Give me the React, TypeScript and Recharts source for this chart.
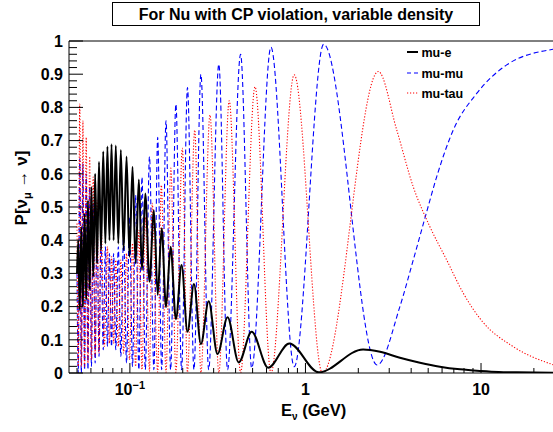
import React from 'react';
import { LineChart, Line, XAxis, YAxis, ReferenceLine } from 'recharts';

// ---- mu -> e (black, solid)
const muE_energy = [0.05, 0.0508, 0.0518, 0.0529, 0.054, 0.0552, 0.0564, 0.0577, 0.059, 0.0604, 0.0618, 0.0634, 0.065, 0.0667, 0.0685, 0.0705, 0.0725, 0.0745, 0.0765, 0.0786, 0.0808, 0.0831, 0.0859, 0.0888, 0.0921, 0.0957, 0.0995, 0.1035, 0.1078, 0.1125, 0.1172, 0.1224, 0.1293, 0.137, 0.144, 0.1517, 0.1606, 0.1706, 0.1828, 0.197, 0.2128, 0.2317, 0.2538, 0.281, 0.3155, 0.36, 0.4167, 0.494, 0.6135, 0.809, 1.19, 2.13, 2.66, 3.45, 4.49, 5.83, 7.59, 10, 12.6, 16, 25.7];
const muE_prob = [0.3, 0.4, 0.19, 0.44, 0.2, 0.48, 0.22, 0.52, 0.25, 0.56, 0.29, 0.6, 0.33, 0.636, 0.37, 0.667, 0.39, 0.682, 0.4, 0.689, 0.4, 0.685, 0.39, 0.672, 0.37, 0.652, 0.35, 0.621, 0.33, 0.583, 0.31, 0.541, 0.275, 0.49, 0.235, 0.436, 0.198, 0.38, 0.162, 0.325, 0.124, 0.268, 0.087, 0.216, 0.057, 0.168, 0.032, 0.124, 0.016, 0.089, 0.002, 0.071, 0.064, 0.046, 0.031, 0.019, 0.011, 0.006, 0.003, 0.002, 0.001];

// ---- mu -> mu (blue, dashed)
const muMu_energy = [0.05, 0.0508, 0.0518, 0.0529, 0.054, 0.0552, 0.0564, 0.0577, 0.059, 0.0604, 0.0618, 0.0634, 0.065, 0.0667, 0.0685, 0.0705, 0.0725, 0.0745, 0.0765, 0.0786, 0.0808, 0.0831, 0.0859, 0.0888, 0.0921, 0.0957, 0.0995, 0.1035, 0.1078, 0.1125, 0.1172, 0.1224, 0.1293, 0.137, 0.144, 0.1517, 0.1606, 0.1706, 0.1828, 0.197, 0.2128, 0.2317, 0.2538, 0.281, 0.321, 0.36, 0.427, 0.494, 0.636, 0.863, 1.27, 2.56, 3.45, 4.11, 4.93, 5.59, 6.95, 9.45, 14.0, 25.7];
const muMu_prob = [0.3, 0.0, 0.645, 0.0, 0.63, 0.01, 0.6, 0.01, 0.56, 0.02, 0.51, 0.03, 0.46, 0.05, 0.41, 0.07, 0.38, 0.08, 0.36, 0.08, 0.36, 0.07, 0.38, 0.05, 0.42, 0.03, 0.47, 0.02, 0.536, 0.01, 0.59, 0.01, 0.652, 0.01, 0.71, 0.01, 0.76, 0.01, 0.81, 0.01, 0.86, 0.01, 0.9, 0.01, 0.93, 0.01, 0.96, 0.015, 0.981, 0.019, 0.99, 0.024, 0.2, 0.34, 0.49, 0.591, 0.732, 0.842, 0.928, 0.975];

// ---- mu -> tau (red, dotted)
const muTau_energy = [0.05, 0.0508, 0.0518, 0.0529, 0.054, 0.0552, 0.0564, 0.0577, 0.059, 0.0604, 0.0618, 0.0634, 0.065, 0.0667, 0.0685, 0.0715, 0.0745, 0.0765, 0.0786, 0.0808, 0.0831, 0.0859, 0.0888, 0.0921, 0.0957, 0.0995, 0.1035, 0.1078, 0.1125, 0.1172, 0.1224, 0.1293, 0.134, 0.144, 0.151, 0.1606, 0.171, 0.1828, 0.199, 0.2128, 0.234, 0.2538, 0.286, 0.321, 0.368, 0.427, 0.516, 0.636, 0.863, 1.25, 2.6, 3.31, 4.11, 5.12, 6.38, 7.93, 10, 15.3, 25.7];
const muTau_prob = [0.45, 0.02, 0.81, 0.02, 0.76, 0.02, 0.71, 0.03, 0.652, 0.04, 0.59, 0.05, 0.52, 0.06, 0.45, 0.08, 0.38, 0.09, 0.35, 0.09, 0.34, 0.08, 0.34, 0.06, 0.36, 0.04, 0.39, 0.02, 0.43, 0.01, 0.47, 0.005, 0.511, 0.003, 0.566, 0.002, 0.617, 0.002, 0.677, 0.002, 0.732, 0.001, 0.777, 0.001, 0.82, 0.001, 0.862, 0.0, 0.898, 0.0, 0.908, 0.732, 0.561, 0.44, 0.34, 0.24, 0.16, 0.079, 0.025];

// ---- axis ticks
const xTickValues = [0.05, 0.06, 0.07, 0.08, 0.09, 0.1, 0.2, 0.3, 0.4, 0.5, 0.6, 0.7, 0.8, 0.9, 1, 2, 3, 4, 5, 6, 7, 8, 9, 10, 20];
const xMajorTicks = [0.1, 1, 10];
const yTickValues = [0, 0.02, 0.04, 0.06, 0.08, 0.1, 0.12, 0.14, 0.16, 0.18, 0.2, 0.22, 0.24, 0.26, 0.28, 0.3, 0.32, 0.34, 0.36, 0.38, 0.4, 0.42, 0.44, 0.46, 0.48, 0.5, 0.52, 0.54, 0.56, 0.58, 0.6, 0.62, 0.64, 0.66, 0.68, 0.7, 0.72, 0.74, 0.76, 0.78, 0.8, 0.82, 0.84, 0.86, 0.88, 0.9, 0.92, 0.94, 0.96, 0.98, 1];
const yMajorTicks = [0, 0.1, 0.2, 0.3, 0.4, 0.5, 0.6, 0.7, 0.8, 0.9, 1];
const yMajorLabels = ['0', '0.1', '0.2', '0.3', '0.4', '0.5', '0.6', '0.7', '0.8', '0.9', '1'];

const titleText = 'For Nu with CP violation, variable density';
const legendNames = ['mu-e', 'mu-mu', 'mu-tau'];

const toRows = (es: number[], ps: number[]) => es.map((E, i) => ({ E, P: ps[i] }));
const muEData = toRows(muE_energy, muE_prob);
const muMuData = toRows(muMu_energy, muMu_prob);
const muTauData = toRows(muTau_energy, muTau_prob);

const FONT = 'Liberation Sans, Arial, Helvetica, sans-serif';

const isMajor = (v: number, list: number[]) => list.some((m) => Math.abs(m - v) < 1e-9);

const XTick = (props: any) => {
  const { x, y, payload } = props;
  const v = payload.value;
  const major = isMajor(v, xMajorTicks);
  const len = major ? 10 : 5;
  let label: React.ReactNode = null;
  if (major) {
    if (Math.abs(v - 0.1) < 1e-9) {
      label = (
        <text x={x} y={y + 22} textAnchor="middle" fontFamily={FONT} fontWeight="bold" fontSize={16} fill="#000">
          10<tspan dy={-6} fontSize={11}>−1</tspan>
        </text>
      );
    } else {
      label = (
        <text x={x} y={y + 22} textAnchor="middle" fontFamily={FONT} fontWeight="bold" fontSize={16} fill="#000">
          {String(v)}
        </text>
      );
    }
  }
  return (
    <g>
      <line x1={x} x2={x} y1={y} y2={y - len} stroke="#000" strokeWidth={1} />
      {label}
    </g>
  );
};

const YTick = (props: any) => {
  const { x, y, payload } = props;
  const v = payload.value;
  const idx = yMajorTicks.findIndex((m) => Math.abs(m - v) < 1e-9);
  const major = idx >= 0;
  const len = major ? 14 : 8;
  return (
    <g>
      <line x1={x} x2={x + len} y1={y} y2={y} stroke="#000" strokeWidth={1} />
      {major && (
        <text x={x - 6} y={y} dy="0.36em" textAnchor="end" fontFamily={FONT} fontWeight="bold" fontSize={16} fill="#000">
          {yMajorLabels[idx]}
        </text>
      )}
    </g>
  );
};

export default function App() {
  return (
    <div style={{ position: 'absolute', left: 0, top: 0, width: 553, height: 432, background: '#fff' }}>
      <LineChart width={553} height={432} margin={{ top: 41, right: 0, bottom: 0, left: 0 }}>
        <XAxis
          dataKey="E"
          type="number"
          scale="log"
          domain={[0.045, 25.7]}
          allowDataOverflow
          ticks={xTickValues}
          interval={0}
          height={59}
          tickSize={0}
          tickMargin={0}
          tick={<XTick />}
          tickLine={false}
          axisLine={{ stroke: '#000', strokeWidth: 1 }}
        />
        <YAxis
          type="number"
          domain={[0, 1]}
          allowDataOverflow
          ticks={yTickValues}
          interval={0}
          width={69}
          tickSize={0}
          tickMargin={0}
          tick={<YTick />}
          tickLine={false}
          axisLine={{ stroke: '#000', strokeWidth: 1 }}
        />
        <ReferenceLine y={1} stroke="#000" strokeWidth={1} ifOverflow="visible" />
        <Line data={muMuData} dataKey="P" type="monotone" stroke="#0000ff" strokeWidth={1.1} strokeDasharray="5 3" dot={false} isAnimationActive={false} />
        <Line data={muTauData} dataKey="P" type="monotone" stroke="#ff0000" strokeWidth={1.1} strokeDasharray="1.2 1.8" dot={false} isAnimationActive={false} />
        <Line data={muEData} dataKey="P" type="monotone" stroke="#000" strokeWidth={2} dot={false} isAnimationActive={false} />
      </LineChart>
      <svg width={553} height={432} style={{ position: 'absolute', left: 0, top: 0, pointerEvents: 'none' }}>
        <rect x={112.5} y={2.5} width={367} height={23} fill="#fff" stroke="#000" strokeWidth={1} />
        <text x={296} y={19.5} textAnchor="middle" fontFamily={FONT} fontWeight="bold" fontSize={16} fill="#000">{titleText}</text>
        <line x1={407} x2={418} y1={52} y2={52} stroke="#000" strokeWidth={2} />
        <line x1={407} x2={418} y1={73} y2={73} stroke="#0000ff" strokeWidth={1.1} strokeDasharray="4 3" />
        <line x1={407} x2={418} y1={93} y2={93} stroke="#ff0000" strokeWidth={1.1} strokeDasharray="1.2 1.8" />
        <text x={421.5} y={56.5} fontFamily={FONT} fontWeight="bold" fontSize={12.5} fill="#000">{legendNames[0]}</text>
        <text x={421.5} y={77.5} fontFamily={FONT} fontWeight="bold" fontSize={12.5} fill="#000">{legendNames[1]}</text>
        <text x={421.5} y={97.5} fontFamily={FONT} fontWeight="bold" fontSize={12.5} fill="#000">{legendNames[2]}</text>
        <text x={281} y={416} fontFamily={FONT} fontWeight="bold" fontSize={16.5} fill="#000">
          E<tspan dy={4} fontSize={10}>ν</tspan><tspan dy={-4}> (GeV)</tspan>
        </text>
        <text transform="translate(27,188) rotate(-90)" textAnchor="middle" fontFamily={FONT} fontWeight="bold" fontSize={17} fill="#000">
          P[ν<tspan dy={4} fontSize={11}>μ</tspan><tspan dy={-4}> → ν]</tspan>
        </text>
      </svg>
    </div>
  );
}
